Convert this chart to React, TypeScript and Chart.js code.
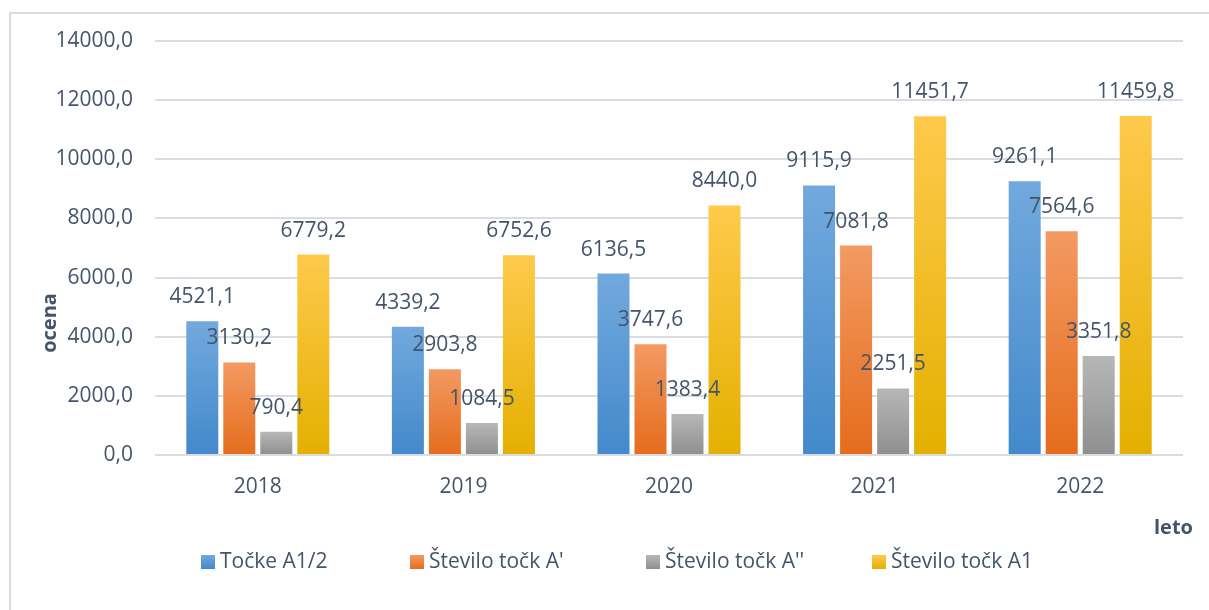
import React, { useEffect, useRef } from "react";
import { Chart, registerables } from "chart.js";

Chart.register(...registerables);

const categories = ["2018", "2019", "2020", "2021", "2022"];
const seriesNames = ["Točke A1/2", "Število točk A'", "Število točk A''", "Število točk A1"];
const tockeA12 = [4521.1, 4339.2, 6136.5, 9115.9, 9261.1];
const steviloA1p = [3130.2, 2903.8, 3747.6, 7081.8, 7564.6];
const steviloA2p = [790.4, 1084.5, 1383.4, 2251.5, 3351.8];
const steviloA1 = [6779.2, 6752.6, 8440.0, 11451.7, 11459.8];
const yTicks = [0, 2000, 4000, 6000, 8000, 10000, 12000, 14000];
const yTitle = "ocena";
const xTitle = "leto";

const gradients = [
  ["#72a9de", "#4389cb"],
  ["#f39a62", "#e56c1c"],
  ["#b7b7b7", "#8f8f8f"],
  ["#ffc94c", "#e3b000"],
];

const legendX = [201, 410, 646, 872];

const TEXT = "#44546a";
const FONT = "'Open Sans', 'Noto Sans', sans-serif";
const fmt = (v: number) => v.toFixed(1).replace(".", ",");

export default function App() {
  const ref = useRef<HTMLCanvasElement | null>(null);
  useEffect(() => {
    if (!ref.current) return;
    const values = [tockeA12, steviloA1p, steviloA2p, steviloA1];

    const labelPlugin = {
      id: "valueLabels",
      afterDatasetsDraw(chart: any) {
        const ctx = chart.ctx;
        ctx.save();
        ctx.font = `21px ${FONT}`;
        ctx.fillStyle = TEXT;
        ctx.textAlign = "center";
        ctx.textBaseline = "middle";
        chart.data.datasets.forEach((ds: any, i: number) => {
          const meta = chart.getDatasetMeta(i);
          meta.data.forEach((bar: any, j: number) => {
            ctx.fillText(fmt(ds.data[j]), bar.x, bar.y - 24);
          });
        });
        ctx.restore();
      },
    };

    const titlePlugin = {
      id: "axisTitlesLegend",
      afterDraw(chart: any) {
        const ctx = chart.ctx;
        ctx.save();
        ctx.font = `bold 20px ${FONT}`;
        ctx.fillStyle = TEXT;
        ctx.textBaseline = "middle";
        ctx.textAlign = "center";
        ctx.translate(50, 323);
        ctx.rotate(-Math.PI / 2);
        ctx.fillText(yTitle, 0, 0);
        ctx.restore();

        ctx.save();
        ctx.font = `bold 20px ${FONT}`;
        ctx.fillStyle = TEXT;
        ctx.textBaseline = "middle";
        ctx.textAlign = "right";
        ctx.fillText(xTitle, 1193, 528);
        ctx.restore();

        ctx.save();
        ctx.font = `21px ${FONT}`;
        ctx.textBaseline = "middle";
        ctx.textAlign = "left";
        chart.data.datasets.forEach((ds: any, i: number) => {
          const x = legendX[i];
          const g = ctx.createLinearGradient(0, 555, 0, 569);
          g.addColorStop(0, gradients[i][0]);
          g.addColorStop(1, gradients[i][1]);
          ctx.fillStyle = g;
          ctx.fillRect(x, 555, 14, 14);
          ctx.fillStyle = TEXT;
          ctx.fillText(ds.label, x + 19, 562);
        });
        ctx.restore();
      },
    };

    const chart = new Chart(ref.current, {
      type: "bar",
      data: {
        labels: categories,
        datasets: values.map((d, i) => ({
          label: seriesNames[i],
          data: d,
          backgroundColor: (c: any) => {
            const ch = c.chart;
            const area = ch.chartArea;
            if (!area || c.type !== "data") return gradients[i][1];
            const y = ch.scales.y;
            const top = y.getPixelForValue(c.raw);
            const bottom = y.getPixelForValue(0);
            const g = ch.ctx.createLinearGradient(0, top, 0, bottom);
            g.addColorStop(0, gradients[i][0]);
            g.addColorStop(1, gradients[i][1]);
            return g;
          },
          categoryPercentage: 0.72,
          barPercentage: 0.865,
        })),
      },
      options: {
        animation: false,
        responsive: false,
        layout: { padding: { left: 0, right: 26, top: 41, bottom: 0 } },
        plugins: {
          legend: { display: false },
          tooltip: { enabled: false },
        },
        scales: {
          x: {
            grid: { display: false, drawTicks: false },
            border: { display: false },
            ticks: { color: TEXT, font: { family: FONT, size: 21 }, padding: 19 },
            afterFit: (s: any) => {
              s.height = 155;
            },
          },
          y: {
            min: 0,
            max: 14000,
            afterBuildTicks: (s: any) => {
              s.ticks = yTicks.map((v) => ({ value: v }));
            },
            grid: { color: "#d9dde3", lineWidth: 2, drawTicks: false },
            border: { display: false },
            ticks: {
              color: TEXT,
              font: { family: FONT, size: 21 },
              padding: 22,
              callback: (v: any) => fmt(Number(v)),
            },
            afterFit: (s: any) => {
              s.width = 155;
            },
          },
        },
      },
      plugins: [labelPlugin, titlePlugin],
    } as any);
    return () => chart.destroy();
  }, []);

  return (
    <div style={{ position: "fixed", left: 0, top: 0, width: 1209, height: 610, background: "#fff", overflow: "hidden" }}>
      <div
        style={{
          position: "absolute",
          left: 9,
          top: 12,
          width: 1400,
          height: 800,
          borderLeft: "2px solid #d9dde3",
          borderTop: "2px solid #d9dde3",
        }}
      />
      <canvas ref={ref} width={1209} height={610} style={{ position: "absolute", left: 0, top: 0 }} />
    </div>
  );
}
